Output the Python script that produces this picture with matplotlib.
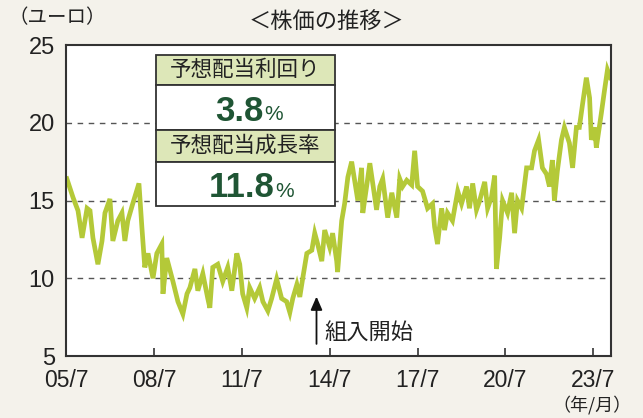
#!/usr/bin/env python3

import matplotlib
matplotlib.use('Agg')
import matplotlib.pyplot as plt
from matplotlib.patches import Rectangle

plt.rcParams['font.family'] = ['Liberation Sans', 'Noto Sans CJK JP', 'DejaVu Sans']

JP = ['Noto Sans CJK JP', 'DejaVu Sans']
BG = '#f4f2eb'
LINE = '#b4c938'
DARK_GREEN = '#1f5534'
HEADER = '#dde7b8'

# price history (decimal year, euro)
years = [
    2005.53, 2005.74, 2005.91, 2006.05, 2006.22, 2006.32, 2006.42, 2006.59, 2006.73, 2006.83,
    2007.00, 2007.10, 2007.27, 2007.41, 2007.51, 2007.61, 2007.78, 2007.99, 2008.09, 2008.19,
    2008.30, 2008.47, 2008.60, 2008.77, 2008.81, 2008.94, 2009.15, 2009.32, 2009.49, 2009.63,
    2009.73, 2009.90, 2010.00, 2010.17, 2010.34, 2010.41, 2010.51, 2010.68, 2010.85, 2011.02,
    2011.16, 2011.33, 2011.43, 2011.53, 2011.67, 2011.77, 2011.94, 2012.11, 2012.22, 2012.39,
    2012.52, 2012.69, 2012.86, 2013.03, 2013.14, 2013.24, 2013.38, 2013.48, 2013.58, 2013.72,
    2013.89, 2013.99, 2014.09, 2014.23, 2014.33, 2014.50, 2014.60, 2014.74, 2014.77, 2014.91,
    2015.01, 2015.12, 2015.25, 2015.35, 2015.46, 2015.59, 2015.63, 2015.76, 2015.87, 2015.97,
    2016.10, 2016.21, 2016.31, 2016.48, 2016.62, 2016.79, 2016.89, 2016.99, 2017.13, 2017.30,
    2017.40, 2017.50, 2017.67, 2017.84, 2018.01, 2018.08, 2018.18, 2018.32, 2018.42, 2018.52,
    2018.69, 2018.87, 2019.00, 2019.17, 2019.27, 2019.38, 2019.51, 2019.62, 2019.79, 2019.89,
    2020.02, 2020.13, 2020.19, 2020.30, 2020.40, 2020.57, 2020.71, 2020.81, 2020.91, 2021.05,
    2021.22, 2021.39, 2021.49, 2021.63, 2021.76, 2021.90, 2022.00, 2022.10, 2022.17, 2022.27,
    2022.41, 2022.51, 2022.68, 2022.79, 2022.92, 2023.02, 2023.13, 2023.26, 2023.37, 2023.43,
    2023.54, 2023.60, 2023.77, 2023.88, 2023.98, 2024.08,
]
prices = [
    16.4, 15.2, 14.35, 12.6, 14.5, 14.35, 12.6, 10.9, 12.4, 14.2,
    15.1, 12.4, 13.7, 14.2, 12.4, 13.7, 14.8, 16.1, 13.3, 10.7,
    11.6, 10.0, 11.6, 12.2, 9.0, 11.3, 9.8, 8.5, 7.7, 9.0,
    9.4, 10.6, 9.2, 10.3, 8.7, 8.1, 10.7, 10.9, 9.8, 10.7,
    9.2, 11.6, 10.9, 9.0, 8.1, 9.4, 8.7, 9.4, 8.5, 7.9,
    8.7, 9.95, 8.7, 8.5, 7.8, 8.7, 9.6, 8.8, 10.0, 11.6,
    11.8, 12.9, 12.2, 11.1, 13.1, 12.0, 12.9, 11.1, 10.4, 13.7,
    14.8, 16.5, 17.5, 16.3, 15.0, 17.1, 14.2, 15.9, 17.4, 16.1,
    14.4, 15.9, 16.4, 13.9, 15.5, 13.9, 16.4, 15.9, 16.3, 16.0,
    18.2, 15.9, 15.6, 14.5, 14.8, 13.3, 12.2, 14.5, 13.1, 14.2,
    13.7, 15.6, 14.8, 15.9, 14.5, 16.1, 14.4, 15.0, 16.2, 14.5,
    15.2, 16.6, 10.6, 12.6, 15.0, 14.2, 15.5, 12.9, 15.0, 14.5,
    17.1, 17.1, 18.2, 18.9, 17.1, 16.7, 15.9, 17.6, 15.0, 16.9,
    18.9, 19.7, 18.7, 17.1, 19.7, 19.7, 21.2, 22.9, 21.6, 18.9,
    19.7, 18.4, 20.6, 22.1, 23.4, 22.9,
]

tick_years = [2005.5, 2008.5, 2011.5, 2014.5, 2017.5, 2020.5, 2023.5]
tick_labels = ['05/7', '08/7', '11/7', '14/7', '17/7', '20/7', '23/7']
y_ticks = [5, 10, 15, 20, 25]
grid_levels = [10, 15, 20]

start_year = 2014.05
start_label = '組入開始'

box_rows = [('予想配当利回り', '3.8'), ('予想配当成長率', '11.8')]


def main():
    fig = plt.figure(figsize=(6.43, 4.18), dpi=100, facecolor=BG)
    ax = fig.add_axes([0.1026, 0.1483, 0.8476, 0.744])
    ax.set_facecolor('white')

    for lv in grid_levels:
        ax.axhline(lv, color='#555555', lw=1.0, ls=(0, (4, 4)), zorder=1)

    ax.plot(years, prices, color=LINE, lw=3.4, solid_joinstyle='miter', zorder=2)

    ax.set_xlim(2005.5, 2024.1)
    ax.set_ylim(5, 25)
    ax.set_xticks(tick_years)
    ax.set_xticklabels(tick_labels)
    ax.set_yticks(y_ticks)
    ax.tick_params(axis='x', direction='in', length=6, width=1.2, color='#333333',
                   labelsize=16.5, pad=9, labelcolor='#222222')
    ax.tick_params(axis='y', length=0, labelsize=17, pad=8, labelcolor='#222222')
    for sp in ax.spines.values():
        sp.set_color('#333333')
        sp.set_linewidth(1.5)

    # arrow marking when the fund bought in
    ax.annotate('', xy=(start_year, 9.0), xytext=(start_year, 5.6),
                arrowprops=dict(arrowstyle='-|>,head_length=0.8,head_width=0.35',
                                color='#111111', lw=1.3))
    ax.text(start_year + 0.28, 6.5, start_label, family=JP, fontsize=16,
            color='#222222', va='center', ha='left')

    # info box
    x0, x1 = 0.165, 0.4936
    edges = [0.968, 0.871, 0.727, 0.624, 0.482]
    right_edges = [0.362, 0.382]
    for i, (head, val) in enumerate(box_rows):
        top, mid, bot = edges[2 * i], edges[2 * i + 1], edges[2 * i + 2]
        ax.add_patch(Rectangle((x0, mid), x1 - x0, top - mid, transform=ax.transAxes,
                               facecolor=HEADER, edgecolor='#333333', lw=1.3, zorder=5))
        ax.add_patch(Rectangle((x0, bot), x1 - x0, mid - bot, transform=ax.transAxes,
                               facecolor='white', edgecolor='#333333', lw=1.3, zorder=5))
        ax.text((x0 + x1) / 2, (top + mid) / 2, head, transform=ax.transAxes,
                family=JP, fontsize=15.5, color='#222222', ha='center', va='center', zorder=6)
        t = ax.text(right_edges[i], (mid + bot) / 2 - 0.012, val, transform=ax.transAxes,
                    fontsize=25, fontweight='bold', color=DARK_GREEN,
                    ha='right', va='center', zorder=6)
        ax.annotate('%', xy=(1.0, 0.1), xycoords=t, xytext=(1, 0), textcoords='offset points',
                    fontsize=15, color=DARK_GREEN, ha='left', va='bottom', zorder=6)

    fig.text(327 / 643, 1 - 21 / 418, '＜株価の推移＞', family=JP, fontsize=16,
             ha='center', va='center', color='#222222')
    fig.text(8 / 643, 1 - 18 / 418, '（ユーロ）', family=JP, fontsize=14,
             ha='left', va='center', color='#222222')
    fig.text(632 / 643, 1 - 405 / 418, '（年/月）', family=JP, fontsize=13,
             ha='right', va='center', color='#222222')

    fig.savefig('out.png', dpi=100, facecolor=BG)
    plt.close(fig)


if __name__ == '__main__':
    main()
